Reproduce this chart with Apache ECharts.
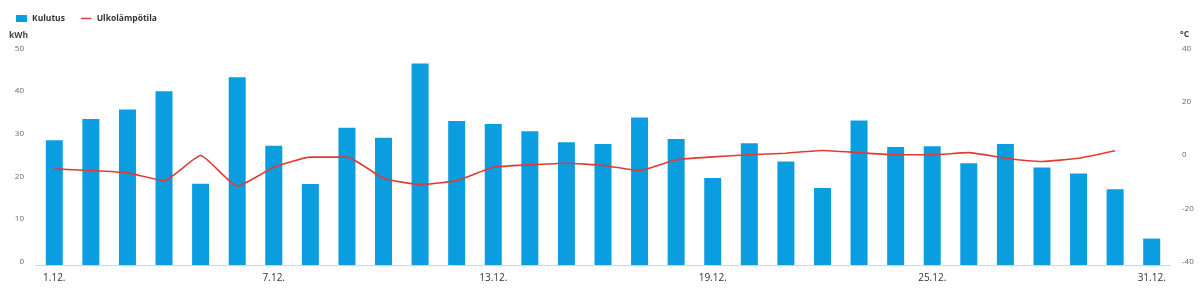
<!DOCTYPE html>
<html><head><meta charset="utf-8">
<script src="https://cdn.jsdelivr.net/npm/echarts@6/dist/echarts.min.js"></script>
<style>html,body{margin:0;padding:0;background:#fff}#c{width:1200px;height:289px}</style>
</head><body><div id="c"></div>
<script>
const categories = ['1.12.','2.12.','3.12.','4.12.','5.12.','6.12.','7.12.','8.12.','9.12.','10.12.','11.12.','12.12.','13.12.','14.12.','15.12.','16.12.','17.12.','18.12.','19.12.','20.12.','21.12.','22.12.','23.12.','24.12.','25.12.','26.12.','27.12.','28.12.','29.12.','30.12.','31.12.'];
const kulutus = [29.3,34.3,36.5,40.8,19.1,44.1,28.0,19.0,32.2,29.9,47.3,33.8,33.1,31.4,28.8,28.4,34.6,29.6,20.4,28.6,24.3,18.1,33.9,27.7,27.9,23.9,28.4,22.9,21.5,17.8,6.2];
const ulkolampotila = [-3.9,-4.5,-5.4,-8.3,1.1,-10.4,-3.3,0.5,0.5,-7.4,-9.8,-8.3,-3.3,-2.4,-1.8,-2.6,-4.5,-0.5,0.6,1.4,2.0,3.0,2.2,1.4,1.4,2.2,0.1,-1.1,0.1,2.9,null];
const leftTicks = {min:0,max:50,interval:10};
const rightTicks = {min:-40,max:40,interval:20};

const font = 'Open Sans';
const lineIcon = 'path://M0,0h0.01v0.01h-0.01z M0,3.2h12v1.6h-12z M11.99,7.99h0.01v0.01h-0.01z';
const chart = echarts.init(document.getElementById('c'));
chart.setOption({
  animation:false,
  textStyle:{fontFamily:font},
  legend:{
    left:11, top:9, itemGap:16, itemWidth:11, itemHeight:7,
    textStyle:{fontFamily:font, fontSize:8.5, fontWeight:'bold', color:'#333'},
    data:[{name:'Kulutus', icon:'rect'},{name:'Ulkolämpötila', icon:lineIcon}]
  },
  graphic:[
    {type:'text', left:9, top:31, style:{text:'kWh', font:'bold 8.5px "Open Sans"', fill:'#444'}},
    {type:'text', left:1180, top:30, style:{text:'°C', font:'bold 8.5px "Open Sans"', fill:'#444'}}
  ],
  grid:{left:36, right:30, top:52, bottom:24},
  xAxis:{
    type:'category', data:categories,
    axisLine:{lineStyle:{color:'#ccd6eb'}},
    axisTick:{alignWithLabel:true, interval:5, length:5, lineStyle:{color:'#ccd6eb'}},
    axisLabel:{interval:5, color:'#333', fontSize:10, margin:8, fontFamily:font},
    splitLine:{show:false}
  },
  yAxis:[
    {type:'value', min:leftTicks.min, max:leftTicks.max, interval:leftTicks.interval,
     splitLine:{show:false}, axisLine:{show:false}, axisTick:{show:false},
     axisLabel:{color:'#666', fontSize:8, margin:12, verticalAlign:'bottom', lineHeight:7, fontFamily:font}},
    {type:'value', min:rightTicks.min, max:rightTicks.max, interval:rightTicks.interval,
     splitLine:{show:false}, axisLine:{show:false}, axisTick:{show:false},
     axisLabel:{color:'#666', fontSize:8, margin:12, verticalAlign:'bottom', lineHeight:7, fontFamily:font}}
  ],
  series:[
    {name:'Kulutus', type:'bar', data:kulutus, barWidth:17, itemStyle:{color:'#0a9de0'}},
    {name:'Ulkolämpötila', type:'line', yAxisIndex:1, data:ulkolampotila, smooth:0.15,
     showSymbol:false, symbol:'none', lineStyle:{color:'#e23b36', width:1.6}, itemStyle:{color:'#e23b36'}}
  ]
});
</script></body></html>
